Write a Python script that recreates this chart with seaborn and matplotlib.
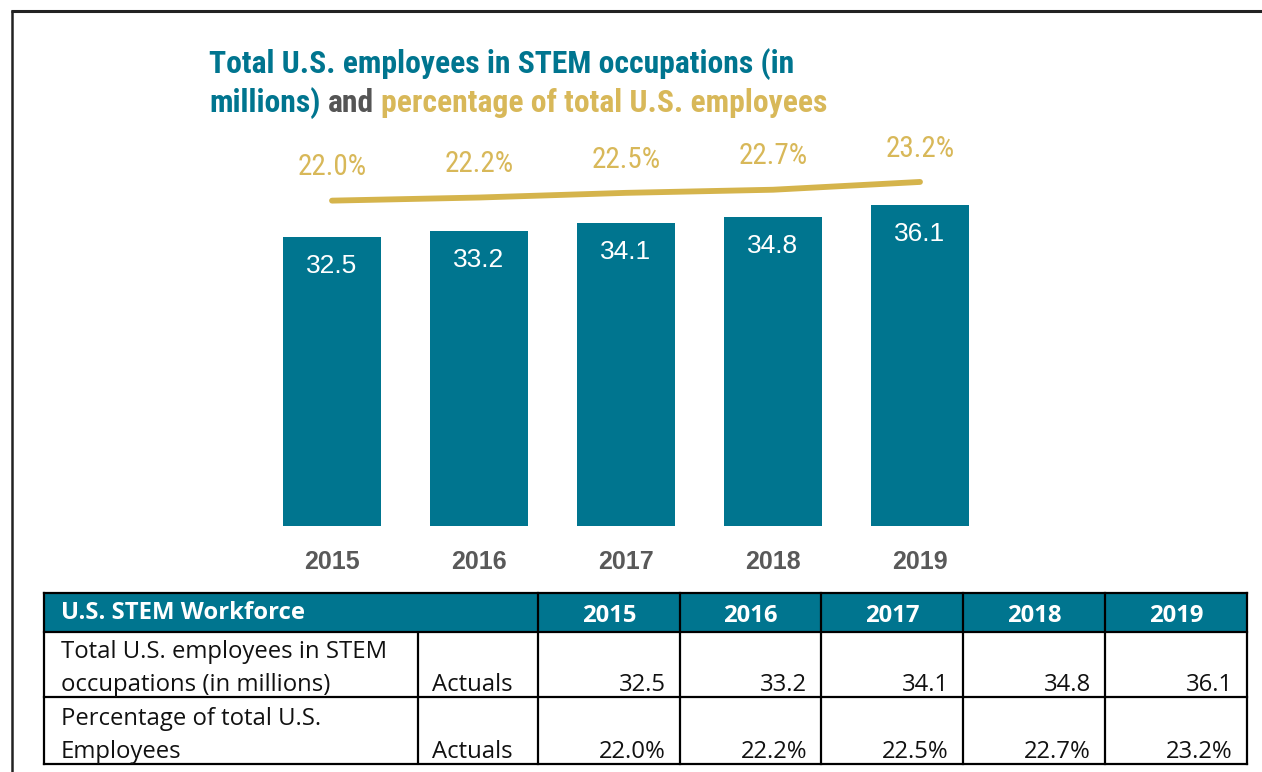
import numpy as np
import pandas as pd
import matplotlib
matplotlib.use("Agg")
import matplotlib.pyplot as plt
from matplotlib import font_manager as fm
from matplotlib.patches import Rectangle
import seaborn as sns

# ---------------- data ----------------
years = ["2015", "2016", "2017", "2018", "2019"]
stem_millions = [32.5, 33.2, 34.1, 34.8, 36.1]
stem_pct = [22.0, 22.2, 22.5, 22.7, 23.2]

title_line1 = "Total U.S. employees in STEM occupations (in"
title_line2 = ["millions)", "and", "percentage of total U.S. employees"]

table_title = "U.S. STEM Workforce"
row_labels = [["Total U.S. employees in STEM", "occupations (in millions)"],
              ["Percentage of total U.S.", "Employees"]]
row_kind = ["Actuals", "Actuals"]
row_values = [[f"{v:.1f}" for v in stem_millions],
              [f"{v:.1f}%" for v in stem_pct]]

# ---------------- style ----------------
TEAL = "#00758F"
GOLD = "#D5B44C"
GOLD_TXT = "#D8B859"
GRAY_AND = "#555555"
YEAR_GRAY = "#595959"

sns.set_style("white")
plt.rcParams["font.family"] = ["Liberation Sans", "DejaVu Sans"]

flist = fm.fontManager.ttflist
names = {f.name for f in flist}
if "Roboto Condensed" in names:
    COND = {"family": "Roboto Condensed"}
elif "Liberation Sans Narrow" in names:
    COND = {"family": "Liberation Sans Narrow"}
elif any(f.name == "DejaVu Sans" and "condensed" in str(f.stretch) for f in flist):
    COND = {"family": "DejaVu Sans", "fontstretch": "condensed"}
else:
    COND = {"family": "Liberation Sans"}

W, H = 1262, 772
fig = plt.figure(figsize=(W / 100, H / 100), dpi=100)
fig.patch.set_facecolor("white")

df = pd.DataFrame({"year": years, "stem": stem_millions, "pct": stem_pct})

# ---------------- bar chart ----------------
ax = fig.add_axes([258.5 / W, 1 - 526 / H, 735 / W, 400 / H])
sns.barplot(data=df, x="year", y="stem", color=TEAL, saturation=1,
            width=0.667, linewidth=0, ax=ax)
ax.set_ylim(0, 45)
ax.set_xlim(-0.5, 4.5)
for i, v in enumerate(stem_millions):
    ax.annotate(f"{v:.1f}", (i, v), xytext=(0, -21), textcoords="offset points",
                ha="center", va="center", color="white", fontsize=19,
                family="Liberation Sans")
ax.set_xlabel("")
ax.set_ylabel("")
ax.set_yticks([])
ax.tick_params(axis="x", length=0, pad=17.5)
for lab in ax.get_xticklabels():
    lab.set_fontsize(18)
    lab.set_fontweight("bold")
    lab.set_color(YEAR_GRAY)
    lab.set_family("Liberation Sans")
for s in ax.spines.values():
    s.set_visible(False)
ax.patch.set_alpha(0)

ax2 = ax.twinx()
sns.pointplot(data=df, x="year", y="pct", color=GOLD, markers="",
              linewidth=4.2, solid_capstyle="round", ax=ax2)
ax2.set_ylim(1.12, 26.79)
ax2.set_xlim(-0.5, 4.5)
ax2.set_yticks([])
ax2.set_ylabel("")
ax2.set_xlabel("")
for s in ax2.spines.values():
    s.set_visible(False)
for i, v in enumerate(stem_pct):
    ax2.annotate(f"{v:.1f}%", (i, v), xytext=(0, 24), textcoords="offset points",
                 ha="center", va="center", color=GOLD_TXT, fontsize=21, **COND)

# ---------------- overlay (title, frame, table) ----------------
axT = fig.add_axes([0, 0, 1, 1], zorder=5)
axT.set_xlim(0, W)
axT.set_ylim(H, 0)
axT.axis("off")
axT.patch.set_alpha(0)

# frame
axT.plot([11.5, 11.5], [9.5, H + 2], color="#222222", lw=1.8, clip_on=False,
         solid_capstyle="butt")
axT.plot([10.5, W + 2], [10.5, 10.5], color="#222222", lw=2.2, clip_on=False,
         solid_capstyle="butt")

# title
tkw = dict(fontsize=22.8, fontweight="bold", va="baseline", ha="left", **COND)
x0 = 209
axT.text(x0, 73, title_line1, color=TEAL, **tkw)
fig.canvas.draw()
r = fig.canvas.get_renderer()


def width_of(s):
    t = axT.text(0, 0, s, **tkw)
    w = t.get_window_extent(renderer=r).width
    t.remove()
    return w


full2 = " ".join(title_line2)
pre_and = " ".join(title_line2[:2])
x_and = x0 + width_of(pre_and) - width_of(title_line2[1])
x_gold = x0 + width_of(full2) - width_of(title_line2[2])
axT.text(x0, 112, title_line2[0], color=TEAL, **tkw)
axT.text(x_and, 112, title_line2[1], color=GRAY_AND, **tkw)
axT.text(x_gold, 112, title_line2[2], color=GOLD_TXT, **tkw)

# table
cols = [44, 418, 538, 680, 821, 963, 1105, 1247]
rows = [593, 632, 697, 764]
axT.add_patch(Rectangle((cols[0], rows[0]), cols[-1] - cols[0], rows[1] - rows[0],
                        facecolor=TEAL, edgecolor="none"))
lw = 1.6
for y in rows:
    axT.plot([cols[0], cols[-1]], [y, y], color="black", lw=lw, solid_capstyle="projecting")
for x in [cols[0]] + cols[2:]:
    axT.plot([x, x], [rows[0], rows[-1]], color="black", lw=lw, solid_capstyle="projecting")
axT.plot([cols[1], cols[1]], [rows[1], rows[-1]], color="black", lw=lw)

tab_font = "Open Sans"
tfs = 17.2
axT.text(61, 619, table_title, color="white", fontsize=tfs, fontweight="bold",
         family=tab_font, va="baseline", ha="left")
for j, yr in enumerate(years):
    cx = (cols[2 + j] + cols[3 + j]) / 2
    axT.text(cx, 622, yr, color="white", fontsize=tfs, fontweight="bold",
             family=tab_font, va="baseline", ha="center")

baselines = [(658, 691), (725, 758)]
for i in range(2):
    b1, b2 = baselines[i]
    axT.text(61, b1, row_labels[i][0], fontsize=tfs, family=tab_font,
             va="baseline", ha="left", color="#111111")
    axT.text(61, b2, row_labels[i][1], fontsize=tfs, family=tab_font,
             va="baseline", ha="left", color="#111111")
    axT.text(432, b2, row_kind[i], fontsize=tfs, family=tab_font,
             va="baseline", ha="left", color="#111111")
    for j in range(5):
        axT.text(cols[3 + j] - 14, b2, row_values[i][j], fontsize=tfs,
                 family=tab_font, va="baseline", ha="right", color="#111111")

fig.savefig("out.png", dpi=100, facecolor="white")
